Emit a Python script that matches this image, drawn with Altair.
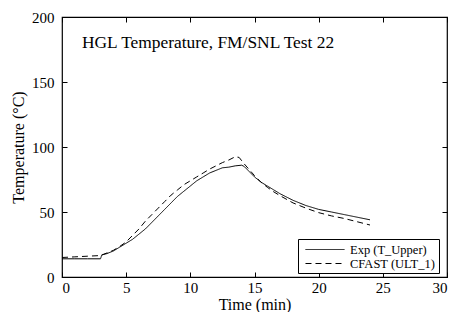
import altair as alt
import pandas as pd

# Experimental (T_Upper)
exp_t = [0, 1, 2, 3.0, 3.1, 3.5, 4, 4.5, 5, 5.5, 6, 6.5, 7, 7.5, 8, 8.5, 9, 9.5, 10, 10.5, 11, 11.5, 12, 12.5, 13, 13.5, 14, 14.2, 14.6, 15, 15.5, 16, 16.5, 17, 18, 19, 20, 21, 22, 23, 24]
exp_v = [14, 14, 14, 14, 17, 18, 20, 23, 26, 29, 33, 37, 42, 47, 52, 57, 62, 66, 70, 74, 77, 80, 82, 84, 84.5, 85.5, 86, 85, 81, 77, 73, 70, 67, 64, 59, 55, 52, 50, 48, 46, 44]
# CFAST (ULT_1)
cf_t = [0, 1, 2, 3, 3.5, 4, 4.5, 5, 5.5, 6, 6.5, 7, 7.5, 8, 8.5, 9, 9.5, 10, 10.5, 11, 11.5, 12, 12.5, 13, 13.5, 13.8, 14.2, 15, 15.5, 16, 16.5, 17, 18, 19, 20, 21, 22, 23, 24]
cf_v = [15, 15.5, 16, 16.5, 18.5, 20.5, 23.5, 27, 32, 37, 43, 48, 53, 58, 63, 67, 71, 74, 77, 80, 83, 85.5, 88, 90, 92.5, 92, 87, 78, 73, 69, 65.5, 62.5, 57, 53, 49.5, 47, 45, 42.5, 40]

series_names = ["Exp (T_Upper)", "CFAST (ULT_1)"]

rows = [{"t": t, "v": v, "s": series_names[0]} for t, v in zip(exp_t, exp_v)]
rows += [{"t": t, "v": v, "s": series_names[1]} for t, v in zip(cf_t, cf_v)]
df = pd.DataFrame(rows)

x_ticks = [0, 5, 10, 15, 20, 25, 30]
y_ticks = [0, 50, 100, 150, 200]
FONT = "Liberation Serif"

xs = alt.Scale(domain=[0, 30], nice=False, zero=False)
ys = alt.Scale(domain=[0, 200], nice=False, zero=False)

lines = alt.Chart(df).mark_line(strokeWidth=1, color="black").encode(
    x=alt.X("t:Q", scale=xs, title="Time (min)",
            axis=alt.Axis(values=x_ticks, offset=-5, tickSize=5, domain=False, grid=False,
                          labelPadding=3, titleY=37, titleBaseline="alphabetic",
                          titleFontWeight="normal", tickColor="black")),
    y=alt.Y("v:Q", scale=ys, title="Temperature (°C)",
            axis=alt.Axis(values=y_ticks, offset=-5, tickSize=5, domain=False, grid=False,
                          labelPadding=8, titleX=-49, titleBaseline="middle",
                          titleFontWeight="normal", tickColor="black")),
    strokeDash=alt.StrokeDash("s:N", title=None,
                              scale=alt.Scale(domain=series_names, range=[[1, 0], [6, 4]]),
                              legend=alt.Legend(orient="none", legendX=236, legendY=222,
                                                strokeColor="black", fillColor="white",
                                                padding=3, symbolType="M-0.43,0L5.14,0",
                                                symbolSize=196, symbolStrokeWidth=1,
                                                symbolStrokeColor="black",
                                                labelFont=FONT, labelFontSize=12.5,
                                                labelColor="black", rowPadding=0,
                                                labelOffset=34, labelLimit=200)),
)

mirror = alt.Chart(df).mark_line(opacity=0).encode(
    x=alt.X("t:Q", scale=xs,
            axis=alt.Axis(orient="top", values=x_ticks, offset=-5, tickSize=5, domain=False,
                          grid=False, labels=False, title=None, tickColor="black")),
    y=alt.Y("v:Q", scale=ys,
            axis=alt.Axis(orient="right", values=y_ticks, offset=-5, tickSize=5, domain=False,
                          grid=False, labels=False, title=None, tickColor="black")),
)

title = alt.Chart(pd.DataFrame({"txt": ["HGL Temperature, FM/SNL Test 22"]})).mark_text(
    align="left", baseline="alphabetic", font=FONT, fontSize=17.4, color="black"
).encode(x=alt.value(20), y=alt.value(31), text="txt:N")

chart = alt.layer(lines, mirror, title).resolve_axis(x="independent", y="independent").properties(
    width=385, height=260,
    autosize=alt.AutoSizeParams(type="none"),
    padding={"left": 54, "top": 9, "right": 1, "bottom": 35},
).configure_view(stroke="black", strokeWidth=1.2).configure_axis(
    labelFont=FONT, titleFont=FONT, labelFontSize=15, titleFontSize=16,
    labelColor="black", titleColor="black", titleFontWeight="normal"
)

chart.save("out.html", embed_options={"renderer": "svg", "actions": False})
